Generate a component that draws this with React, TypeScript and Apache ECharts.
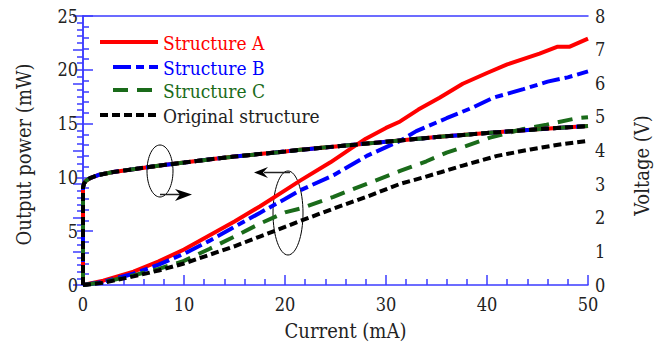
import React, { useEffect, useRef } from "react";
import * as echarts from "echarts";

// Output power (mW) vs current (mA)
const powerA: [number, number][] = [
  [0, 0], [2, 0.4], [5, 1.25], [7.5, 2.2], [10, 3.3], [12.5, 4.6], [15, 5.9], [17.5, 7.3],
  [20, 8.8], [21.5, 9.7], [24.5, 11.4], [26.4, 12.6], [28, 13.6], [30, 14.6], [31.4, 15.2],
  [33.2, 16.3], [35.3, 17.4], [37.6, 18.7], [40, 19.7], [42, 20.5], [45.2, 21.5], [47, 22.15],
  [48.2, 22.15], [50, 22.9],
];
const powerB: [number, number][] = [
  [0, 0], [2, 0.3], [5, 1.05], [7.5, 1.9], [10, 2.9], [12.5, 4.1], [15, 5.4], [17.5, 6.7],
  [20, 8.0], [21.5, 8.8], [24.8, 10.2], [28.1, 12.0], [31.4, 13.4], [33, 14.3], [36, 15.5],
  [38.6, 16.5], [40.6, 17.4], [43.6, 18.2], [46, 18.9], [48, 19.3], [50, 19.85],
];
const powerC: [number, number][] = [
  [0, 0], [2, 0.25], [5, 0.9], [7.5, 1.5], [10, 2.24], [12.5, 3.35], [15, 4.5], [17.5, 5.7],
  [20, 6.75], [21.5, 7.1], [24.8, 8.2], [28.1, 9.4], [31.4, 10.6], [34, 11.5], [36, 12.3],
  [37.9, 12.9], [40.3, 13.7], [43.6, 14.5], [45.9, 14.9], [48.9, 15.5], [50, 15.6],
];
const powerOrig: [number, number][] = [
  [0, 0], [2, 0.2], [5, 0.8], [7.5, 1.35], [10, 2.0], [12.5, 2.8], [15, 3.6], [17.5, 4.5],
  [20, 5.4], [21.5, 5.95], [24.8, 7.1], [28.1, 8.2], [31.4, 9.4], [33.7, 10.0], [35.5, 10.5],
  [37.6, 11.1], [41, 12.0], [44.3, 12.6], [47.5, 13.1], [50, 13.4],
];
// Voltage (V) vs current (mA), curves of all structures overlap
const voltage: [number, number][] = [
  [0, 0], [0, 2.9], [0.1, 3.02], [0.3, 3.1], [0.7, 3.18], [1.5, 3.27], [3, 3.36], [4.65, 3.43],
  [8, 3.57], [10, 3.64], [13.5, 3.77], [15, 3.82], [20, 3.97], [21.5, 4.02], [25, 4.12],
  [30, 4.26], [35, 4.4], [40, 4.52], [45, 4.63], [50, 4.73],
];

const legendNames = ["Structure A", "Structure B", "Structure C", "Original structure"];
const colors = ["#ff0000", "#0000ff", "#1a6b1a", "#000000"];
const dashes: any[] = ["solid", [18, 5, 8, 5], [15, 9], [8, 4]];

const FONT = "DejaVu Serif Condensed";
const AXIS = "#3b3bff";

export default function App() {
  const ref = useRef<HTMLDivElement>(null);
  useEffect(() => {
    if (!ref.current) return;
    const chart = echarts.init(ref.current, null, { renderer: "svg" });
    const powers = [powerA, powerB, powerC, powerOrig];
    const series: any[] = [];
    powers.forEach((d, i) => {
      series.push({
        type: "line", name: legendNames[i], data: d, xAxisIndex: 0, yAxisIndex: 0,
        symbol: "none", lineStyle: { color: colors[i], width: 4, type: dashes[i] }, z: 2 + i,
      });
    });
    powers.forEach((_, i) => {
      series.push({
        type: "line", name: legendNames[i] + " V", data: voltage, xAxisIndex: 0, yAxisIndex: 1,
        symbol: "none", lineStyle: { color: colors[i], width: 4, type: dashes[i] }, z: 6 + i,
      });
    });

    const legendRows = [42, 67, 90, 115];
    const legendStart = [100, 113, 113, 100];
    const graphics: any[] = [];
    legendNames.forEach((n, i) => {
      graphics.push({
        type: "line", shape: { x1: legendStart[i], y1: legendRows[i], x2: 158, y2: legendRows[i] },
        style: { stroke: colors[i], lineWidth: 4, lineDash: dashes[i] === "solid" ? null : dashes[i] },
      });
      graphics.push({
        type: "text", x: 163, y: legendRows[i] + 1,
        style: { text: n, fill: i === 3 ? "#222" : colors[i], fontSize: 19, fontFamily: FONT, verticalAlign: "middle" },
      });
    });
    graphics.push(
      { type: "ellipse", shape: { cx: 160, cy: 171, rx: 13, ry: 26 }, style: { fill: "none", stroke: "#000", lineWidth: 1 } },
      { type: "line", shape: { x1: 160, y1: 194.5, x2: 181, y2: 194.5 }, style: { stroke: "#222", lineWidth: 1.5 } },
      { type: "polygon", shape: { points: [[192, 194.5], [175, 189], [180, 194.5], [175, 201]] }, style: { fill: "#000" } },
      { type: "ellipse", shape: { cx: 288, cy: 213, rx: 15, ry: 42 }, style: { fill: "none", stroke: "#000", lineWidth: 1 } },
      { type: "line", shape: { x1: 290, y1: 172.5, x2: 264, y2: 172.5 }, style: { stroke: "#222", lineWidth: 1.5 } },
      { type: "polygon", shape: { points: [[254, 172.5], [268, 167], [263, 172.5], [268, 178]] }, style: { fill: "#000" } },
    );

    const labelStyle = { color: "#222", fontSize: 18, fontFamily: FONT };
    const nameStyle = { color: "#222", fontSize: 20, fontFamily: FONT };
    chart.setOption({
      animation: false,
      textStyle: { fontFamily: FONT },
      grid: { left: 83, right: 77, top: 16, bottom: 59 },
      xAxis: [
        {
          type: "value", min: 0, max: 50, interval: 10,
          axisLine: { show: true, lineStyle: { color: AXIS, width: 1.5 } },
          axisTick: { show: true, inside: true, length: 10, lineStyle: { color: AXIS, width: 1.5 } },
          minorTick: { show: true, splitNumber: 5, length: 6, lineStyle: { color: AXIS, width: 1.5 } },
          splitLine: { show: false },
          axisLabel: { ...labelStyle, margin: 10 },
          name: "Current (mA)", nameLocation: "middle", nameGap: 36,
          nameTextStyle: { ...nameStyle, padding: [0, 0, 0, 20] },
        },
        {
          type: "value", min: 0, max: 50, position: "top",
          axisLine: { show: true, onZero: false, lineStyle: { color: AXIS, width: 1.5 } },
          axisTick: { show: false }, axisLabel: { show: false }, splitLine: { show: false },
        },
      ],
      yAxis: [
        {
          type: "value", min: 0, max: 25, interval: 5, position: "left",
          axisLine: { show: true, lineStyle: { color: AXIS, width: 1.5 } },
          axisTick: { show: true, inside: true, length: 10, lineStyle: { color: AXIS, width: 1.5 } },
          minorTick: { show: true, splitNumber: 5, length: 6, lineStyle: { color: AXIS, width: 1.5 } },
          splitLine: { show: false },
          axisLabel: { ...labelStyle, margin: 5 },
          name: "Output power (mW)", nameLocation: "middle", nameGap: 49,
          nameTextStyle: { ...nameStyle, padding: [0, 8, 0, 0] },
        },
        {
          type: "value", min: 0, max: 8, interval: 1, position: "right",
          axisLine: { show: true, lineStyle: { color: AXIS, width: 1.5 } },
          axisTick: { show: true, inside: true, length: 10, lineStyle: { color: AXIS, width: 1.5 } },
          minorTick: { show: true, splitNumber: 5, length: 6, lineStyle: { color: AXIS, width: 1.5 } },
          splitLine: { show: false },
          axisLabel: { ...labelStyle, margin: 7 },
          name: "Voltage (V)", nameLocation: "middle", nameGap: 44, nameRotate: 90,
          nameTextStyle: { ...nameStyle, padding: [0, 30, 0, 0] },
        },
      ],
      series,
      graphic: graphics,
    });
    return () => chart.dispose();
  }, []);
  return <div ref={ref} style={{ width: 665, height: 346, position: "absolute", left: 0, top: 0 }} />;
}
